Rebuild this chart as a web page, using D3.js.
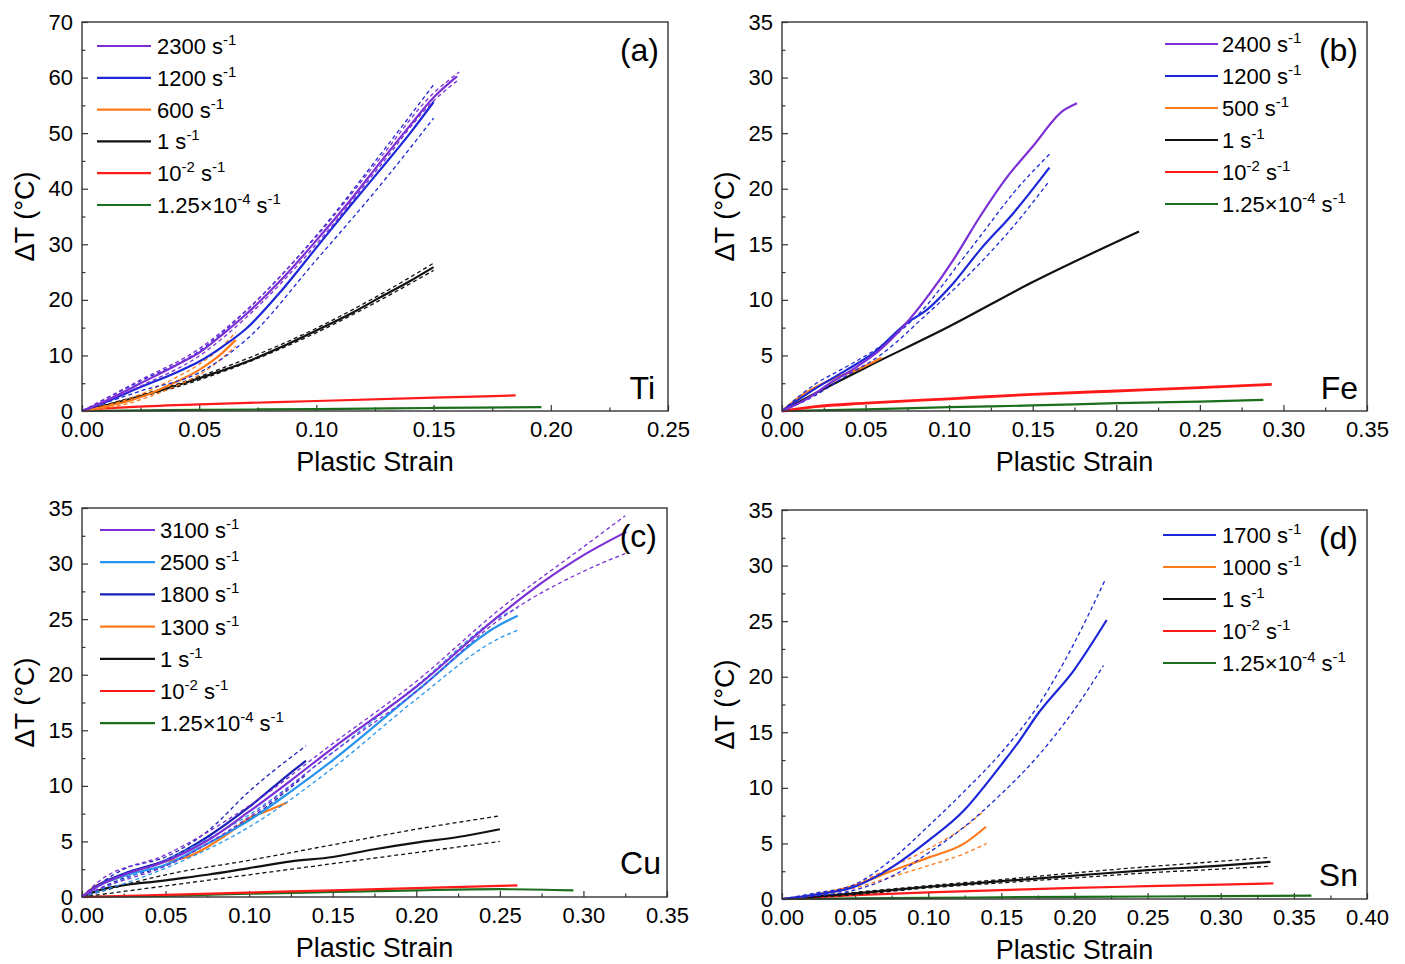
<!DOCTYPE html>
<html lang="en">
<head>
<meta charset="UTF-8" />
<title>Temperature rise vs plastic strain</title>
<script src="https://cdnjs.cloudflare.com/ajax/libs/d3/7.8.5/d3.min.js"></script>
<style>
  body { margin: 0; background: #fff; }
  text { font-family: Arial, "Liberation Sans", sans-serif; fill: #000; }
</style>
</head>
<body>
<svg id="chart" width="1405" height="964"></svg>
<script>
/** Data: [plastic strain, dT (°C)] */
// (a) Ti
const ti2300 = [[0,0],[0.01,1.8],[0.025,5.0],[0.04,8.2],[0.05,10.5],[0.06,13.8],[0.07,17.4],[0.085,23.6],[0.10,30.7],[0.115,38.2],[0.127,44.6],[0.14,51.4],[0.15,56.4],[0.16,60.2]];
const ti2300Hi = [[0,0],[0.025,5.6],[0.05,11.2],[0.07,18.1],[0.10,31.4],[0.127,45.4],[0.15,57.2],[0.161,61.0]];
const ti2300Lo = [[0,0],[0.025,4.5],[0.05,9.9],[0.07,16.8],[0.10,30.0],[0.127,44.0],[0.15,55.8],[0.16,59.4]];
const ti1200 = [[0,0],[0.01,1.6],[0.025,4.3],[0.04,6.9],[0.05,8.9],[0.06,11.6],[0.07,14.8],[0.085,21.6],[0.10,29.4],[0.115,37.2],[0.127,43.3],[0.14,50.0],[0.15,55.6]];
const ti1200Hi = [[0,0],[0.025,5.4],[0.05,10.8],[0.07,18.0],[0.10,31.6],[0.127,46.0],[0.15,58.7]];
const ti1200Lo = [[0,0],[0.025,3.6],[0.05,6.9],[0.07,12.8],[0.10,27.2],[0.127,40.5],[0.15,52.7]];
const ti600 = [[0,0],[0.01,0.8],[0.02,1.8],[0.03,3.3],[0.04,5.2],[0.05,7.4],[0.06,10.5],[0.0656,12.8]];
const ti600Hi = [[0,0],[0.02,2.2],[0.04,6.0],[0.05,8.4],[0.06,11.7],[0.0656,14.2]];
const ti600Lo = [[0,0],[0.02,1.4],[0.04,4.5],[0.05,6.5],[0.06,9.6],[0.0656,11.7]];
const ti1 = [[0,0],[0.01,1.0],[0.02,2.1],[0.035,3.9],[0.05,5.9],[0.07,8.8],[0.085,11.5],[0.10,14.5],[0.115,17.6],[0.127,20.4],[0.14,23.4],[0.15,25.9]];
const ti1Hi = [[0,0],[0.05,6.2],[0.10,14.9],[0.127,20.9],[0.15,26.6]];
const ti1Lo = [[0,0],[0.05,5.6],[0.10,14.1],[0.127,19.9],[0.15,25.3]];
const ti1e2 = [[0,0],[0.005,0.3],[0.02,0.7],[0.05,1.2],[0.10,1.8],[0.15,2.4],[0.185,2.8]];
const ti125e4 = [[0,0],[0.05,0.2],[0.10,0.35],[0.15,0.55],[0.196,0.7]];

// (b) Fe
const fe2400 = [[0,0],[0.015,1.1],[0.0287,2.5],[0.045,4.0],[0.0586,5.5],[0.0726,7.6],[0.0886,10.6],[0.1025,13.6],[0.1185,17.5],[0.1344,21.0],[0.15,23.8],[0.168,27.0],[0.1765,27.7]];
const fe1200 = [[0,0],[0.0187,1.9],[0.0387,3.7],[0.0546,5.2],[0.0746,7.9],[0.0866,9.1],[0.1025,11.5],[0.1185,14.5],[0.1384,17.8],[0.16,21.9]];
const fe1200Hi = [[0,0],[0.0187,2.3],[0.0387,4.0],[0.0586,5.8],[0.0866,9.5],[0.1025,12.6],[0.1185,15.7],[0.1384,19.6],[0.16,23.1]];
const fe1200Lo = [[0,0],[0.0187,1.3],[0.0387,3.2],[0.0586,5.0],[0.0866,8.7],[0.1025,10.9],[0.1185,13.3],[0.1384,16.6],[0.16,20.7]];
const fe500 = [[0,0],[0.0088,1.1],[0.0287,2.8],[0.0447,3.7],[0.0596,4.8]];
const fe1 = [[0,0],[0.02,1.6],[0.05,3.9],[0.10,7.6],[0.15,11.6],[0.2136,16.15]];
const fe1e2 = [[0,0],[0.02,0.4],[0.05,0.7],[0.10,1.1],[0.15,1.5],[0.20,1.8],[0.25,2.1],[0.293,2.4]];
const fe125e4 = [[0,0],[0.05,0.15],[0.10,0.35],[0.15,0.5],[0.20,0.7],[0.25,0.85],[0.288,1.0]];

// (c) Cu
const cu3100 = [[0,0],[0.01,1.0],[0.025,2.0],[0.0498,3.2],[0.0753,5.1],[0.1001,7.7],[0.1251,10.5],[0.15,13.4],[0.1999,18.9],[0.2503,25.4],[0.2754,28.3],[0.3006,30.8],[0.3257,32.85]];
const cu3100Hi = [[0,0],[0.01,1.4],[0.05,3.8],[0.10,8.2],[0.15,13.8],[0.20,19.4],[0.25,25.9],[0.30,31.5],[0.325,34.3]];
const cu3100Lo = [[0,0],[0.01,0.7],[0.05,2.8],[0.10,7.2],[0.15,13.0],[0.20,18.5],[0.25,25.0],[0.30,29.3],[0.325,30.9]];
const cu2500 = [[0,0],[0.01,1.0],[0.025,1.9],[0.05,2.9],[0.075,4.8],[0.10,6.9],[0.125,9.5],[0.15,12.3],[0.20,18.5],[0.25,24.5],[0.2607,25.3]];
const cu2500Hi = [[0,0],[0.05,3.3],[0.10,7.4],[0.15,13.0],[0.20,19.0],[0.25,25.2],[0.2607,26.0]];
const cu2500Lo = [[0,0],[0.05,2.6],[0.10,6.3],[0.15,11.6],[0.20,17.8],[0.25,23.3],[0.2607,24.0]];
const cu1800 = [[0,0],[0.01,1.1],[0.025,2.1],[0.05,3.3],[0.075,5.4],[0.10,8.1],[0.125,11.2],[0.134,12.25]];
const cu1800Hi = [[0,0],[0.025,2.5],[0.05,3.6],[0.075,5.9],[0.10,9.5],[0.134,13.6]];
const cu1800Lo = [[0,0],[0.025,1.7],[0.05,2.8],[0.075,4.8],[0.10,7.0],[0.134,11.0]];
const cu1300 = [[0,0],[0.0062,0.8],[0.021,1.7],[0.05,3.2],[0.0631,3.6],[0.075,4.5],[0.0874,5.7],[0.10,7.1],[0.1118,7.8],[0.1228,8.5]];
const cu1 = [[0,0],[0.01,0.6],[0.05,1.5],[0.075,2.0],[0.10,2.6],[0.125,3.2],[0.15,3.6],[0.175,4.3],[0.20,4.9],[0.225,5.4],[0.25,6.1]];
const cu1Hi = [[0,0],[0.05,2.0],[0.10,3.3],[0.15,4.7],[0.20,6.1],[0.25,7.3]];
const cu1Lo = [[0,0],[0.05,1.0],[0.10,2.0],[0.15,3.0],[0.20,4.0],[0.25,5.0]];
const cu1e2 = [[0,0],[0.05,0.2],[0.10,0.4],[0.15,0.6],[0.20,0.8],[0.2605,1.05]];
const cu125e4 = [[0,0],[0.05,0.1],[0.10,0.3],[0.15,0.45],[0.20,0.6],[0.25,0.7],[0.294,0.6]];

// (d) Sn
const sn1700 = [[0,0],[0.0214,0.36],[0.0495,1.1],[0.0745,2.8],[0.0996,5.2],[0.1247,8.0],[0.14,10.4],[0.1495,12.0],[0.1627,14.3],[0.1746,16.6],[0.1997,20.6],[0.222,25.1]];
const sn1700Hi = [[0,0],[0.0214,0.5],[0.0495,1.3],[0.0745,3.5],[0.0996,6.5],[0.1247,9.7],[0.1495,13.1],[0.1746,17.3],[0.1997,23.0],[0.2209,28.7]];
const sn1700Lo = [[0,0],[0.0214,0.25],[0.0495,0.8],[0.0745,2.0],[0.0996,4.1],[0.1247,6.5],[0.1495,9.4],[0.1746,12.8],[0.1997,17.0],[0.2198,21.0]];
const sn1000 = [[0,0],[0.0214,0.36],[0.0495,1.2],[0.0745,2.5],[0.0996,3.7],[0.1247,5.0],[0.1395,6.5]];
const sn1000Hi = [[0,0],[0.05,1.3],[0.075,2.9],[0.10,4.5],[0.125,6.5],[0.138,7.9]];
const sn1000Lo = [[0,0],[0.05,1.0],[0.075,2.0],[0.10,3.0],[0.125,4.1],[0.14,5.0]];
const sn1 = [[0,0],[0.05,0.5],[0.10,1.1],[0.15,1.6],[0.20,2.1],[0.25,2.6],[0.30,3.0],[0.334,3.35]];
const sn1Hi = [[0,0],[0.05,0.6],[0.10,1.2],[0.15,1.75],[0.20,2.35],[0.25,2.9],[0.30,3.4],[0.334,3.75]];
const sn1Lo = [[0,0],[0.05,0.4],[0.10,1.0],[0.15,1.45],[0.20,1.9],[0.25,2.35],[0.30,2.7],[0.334,2.95]];
const sn1e2 = [[0,0],[0.05,0.35],[0.10,0.6],[0.15,0.8],[0.20,1.0],[0.25,1.15],[0.30,1.3],[0.336,1.4]];
const sn125e4 = [[0,0],[0.05,0.05],[0.10,0.1],[0.20,0.2],[0.30,0.25],[0.362,0.3]];

/** Legend labels ("^" marks a superscript) */
const tiRates = ["2300", "1200", "600", "1", "10^-2", "1.25×10^-4"];
const feRates = ["2400", "1200", "500", "1", "10^-2", "1.25×10^-4"];
const cuRates = ["3100", "2500", "1800", "1300", "1", "10^-2", "1.25×10^-4"];
const snRates = ["1700", "1000", "1", "10^-2", "1.25×10^-4"];

/** Colours */
const purple = "#7b2fd4";
const blue = "#1c28d8";
const darkBlue = "#1a1fb5";
const lightBlue = "#2494ef";
const orange = "#ff7b1c";
const black = "#111111";
const red = "#ff1a1a";
const green = "#1b6e1b";

const panels = [
  {
    box: [82, 668, 22, 411], xMax: 0.25, yMax: 70, yStep: 10,
    tag: "(a)", tagXY: [659, 61], metal: "Ti", metalXY: [655, 399],
    legend: { x0: 97, x1: 151, tx: 157, y0: 46, dy: 31.8 },
    labels: tiRates,
    series: [
      { c: purple, m: ti2300, hi: ti2300Hi, lo: ti2300Lo },
      { c: blue, m: ti1200, hi: ti1200Hi, lo: ti1200Lo },
      { c: orange, m: ti600, hi: ti600Hi, lo: ti600Lo },
      { c: black, m: ti1, hi: ti1Hi, lo: ti1Lo },
      { c: red, m: ti1e2 },
      { c: green, m: ti125e4 },
    ],
  },
  {
    box: [782, 1367, 22, 411], xMax: 0.35, yMax: 35, yStep: 5,
    tag: "(b)", tagXY: [1358, 61], metal: "Fe", metalXY: [1358, 399],
    legend: { x0: 1165, x1: 1218, tx: 1222, y0: 44, dy: 32 },
    labels: feRates,
    series: [
      { c: purple, m: fe2400 },
      { c: blue, m: fe1200, hi: fe1200Hi, lo: fe1200Lo },
      { c: orange, m: fe500 },
      { c: black, m: fe1 },
      { c: red, m: fe1e2, w: 2.8 },
      { c: green, m: fe125e4 },
    ],
  },
  {
    box: [82, 667, 508, 897], xMax: 0.35, yMax: 35, yStep: 5,
    tag: "(c)", tagXY: [657, 547], metal: "Cu", metalXY: [661, 874],
    legend: { x0: 100, x1: 155, tx: 160, y0: 530, dy: 32.2 },
    labels: cuRates,
    series: [
      { c: purple, m: cu3100, hi: cu3100Hi, lo: cu3100Lo },
      { c: lightBlue, m: cu2500, hi: cu2500Hi, lo: cu2500Lo },
      { c: darkBlue, m: cu1800, hi: cu1800Hi, lo: cu1800Lo },
      { c: orange, m: cu1300 },
      { c: black, m: cu1, hi: cu1Hi, lo: cu1Lo },
      { c: red, m: cu1e2 },
      { c: green, m: cu125e4 },
    ],
  },
  {
    box: [782, 1367, 510, 899], xMax: 0.40, yMax: 35, yStep: 5,
    tag: "(d)", tagXY: [1358, 549], metal: "Sn", metalXY: [1358, 886],
    legend: { x0: 1163, x1: 1216, tx: 1222, y0: 535, dy: 32 },
    labels: snRates,
    series: [
      { c: blue, m: sn1700, hi: sn1700Hi, lo: sn1700Lo },
      { c: orange, m: sn1000, hi: sn1000Hi, lo: sn1000Lo },
      { c: black, m: sn1, hi: sn1Hi, lo: sn1Lo },
      { c: red, m: sn1e2 },
      { c: green, m: sn125e4 },
    ],
  },
];

const svg = d3.select("#chart");
svg.append("rect").attr("width", 1405).attr("height", 964).attr("fill", "#fff");

/** Write "1.25×10^-4" style label with superscripts */
function rateLabel(sel, rate) {
  const parts = rate.split("^");
  sel.append("tspan").text(parts[0]);
  if (parts[1]) {
    sel.append("tspan").attr("font-size", 15).attr("dy", -9).text(parts[1]);
    sel.append("tspan").attr("dy", 9).text(" s");
  } else {
    sel.append("tspan").text(" s");
  }
  sel.append("tspan").attr("font-size", 15).attr("dy", -9).text("-1");
}

panels.forEach((p) => {
  const [x0, x1, y0, y1] = p.box;
  const x = d3.scaleLinear().domain([0, p.xMax]).range([x0, x1]);
  const y = d3.scaleLinear().domain([0, p.yMax]).range([y1, y0]);
  const g = svg.append("g");

  const nx = Math.round(p.xMax / 0.05);
  const xMajor = d3.range(nx + 1).map((i) => i * 0.05);
  const xMinor = d3.range(nx).map((i) => i * 0.05 + 0.025);
  const ny = Math.round(p.yMax / p.yStep);
  const yMajor = d3.range(ny + 1).map((i) => i * p.yStep);
  const yMinor = d3.range(ny).map((i) => i * p.yStep + p.yStep / 2);

  /** Axes with inward ticks */
  const xa = g.append("g").attr("transform", `translate(0,${y1})`)
    .call(d3.axisBottom(x).tickValues(xMajor).tickSize(-6).tickPadding(10).tickFormat(d3.format(".2f")));
  const xm = g.append("g").attr("transform", `translate(0,${y1})`)
    .call(d3.axisBottom(x).tickValues(xMinor).tickSize(-3.5).tickFormat(""));
  const ya = g.append("g").attr("transform", `translate(${x0},0)`)
    .call(d3.axisLeft(y).tickValues(yMajor).tickSize(-6).tickPadding(9).tickFormat(d3.format("d")));
  const ym = g.append("g").attr("transform", `translate(${x0},0)`)
    .call(d3.axisLeft(y).tickValues(yMinor).tickSize(-3.5).tickFormat(""));
  [xa, xm, ya, ym].forEach((a) => {
    a.select(".domain").remove();
    a.selectAll("line").attr("stroke", "#333").attr("stroke-width", 1.2);
    a.selectAll("text").attr("font-size", 22).attr("font-family", "Arial, 'Liberation Sans', sans-serif").attr("fill", "#000");
  });

  /** Curves */
  const line = d3.line().x((d) => x(d[0])).y((d) => y(d[1])).curve(d3.curveMonotoneX);
  const curves = g.append("g");
  p.series.slice().reverse().forEach((s) => {
    [s.hi, s.lo].forEach((b) => {
      if (!b) return;
      curves.append("path").attr("d", line(b)).attr("fill", "none")
        .attr("stroke", s.c).attr("stroke-width", 1.3).attr("stroke-dasharray", "4,3");
    });
    curves.append("path").attr("d", line(s.m)).attr("fill", "none")
      .attr("stroke", s.c).attr("stroke-width", s.w || 2.2).attr("stroke-linejoin", "round");
  });

  /** Frame */
  g.append("rect").attr("x", x0).attr("y", y0).attr("width", x1 - x0).attr("height", y1 - y0)
    .attr("fill", "none").attr("stroke", "#333").attr("stroke-width", 1.4);

  /** Axis titles */
  g.append("text").attr("x", (x0 + x1) / 2).attr("y", y1 + 60).attr("text-anchor", "middle")
    .attr("font-size", 27).text("Plastic Strain");
  g.append("text").attr("transform", `translate(${x0 - 48},${(y0 + y1) / 2}) rotate(-90)`)
    .attr("text-anchor", "middle").attr("font-size", 27).text("ΔT (°C)");

  /** Legend */
  const L = p.legend;
  p.series.forEach((s, i) => {
    const yy = L.y0 + i * L.dy;
    g.append("line").attr("x1", L.x0).attr("x2", L.x1).attr("y1", yy).attr("y2", yy)
      .attr("stroke", s.c).attr("stroke-width", 2.2);
    const t = g.append("text").attr("x", L.tx).attr("y", yy + 8).attr("font-size", 22);
    rateLabel(t, p.labels[i]);
  });

  /** Panel tag and metal */
  g.append("text").attr("x", p.tagXY[0]).attr("y", p.tagXY[1]).attr("text-anchor", "end")
    .attr("font-size", 32).text(p.tag);
  g.append("text").attr("x", p.metalXY[0]).attr("y", p.metalXY[1]).attr("text-anchor", "end")
    .attr("font-size", 32).text(p.metal);
});
</script>
</body>
</html>
